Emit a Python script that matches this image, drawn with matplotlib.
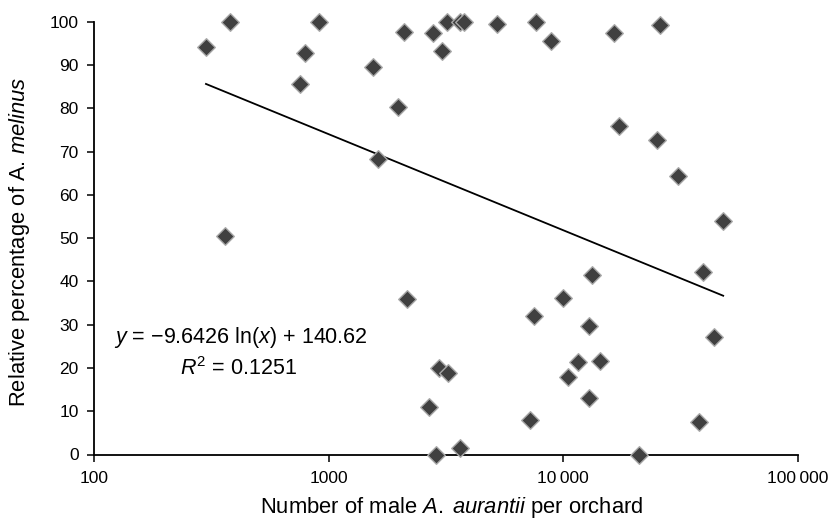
import numpy as np
import matplotlib
matplotlib.use("Agg")
import matplotlib.pyplot as plt

plt.rcParams['font.family'] = ['Liberation Sans', 'DejaVu Sans']
plt.rcParams['mathtext.fontset'] = 'custom'
plt.rcParams['mathtext.rm'] = 'Liberation Sans'
plt.rcParams['mathtext.it'] = 'Liberation Sans:italic'
plt.rcParams['mathtext.bf'] = 'Liberation Sans:bold'

# Data
males = [300, 380, 360, 755, 790, 910, 1540, 1630, 1970, 2100, 2160, 2670, 2790,
         2860, 2940, 3040, 3190, 3220, 3620, 3640, 3780, 5220, 7210, 7520, 7620,
         8850, 10000, 10430, 11570, 12810, 12890, 13250, 14290, 16370, 17300,
         20990, 24990, 25700, 30900, 37940, 39470, 43950, 48000]
melinus_pct = [94.2, 100, 50.6, 85.6, 92.8, 100, 89.6, 68.3, 80.2, 97.7, 36.0, 11.0, 97.3,
               0, 20.1, 93.2, 100, 18.8, 100, 1.4, 100, 99.4, 7.9, 31.9, 100,
               95.5, 36.2, 17.8, 21.4, 29.7, 13.0, 41.5, 21.5, 97.5, 75.8,
               0, 72.7, 99.2, 64.4, 7.4, 42.2, 27.2, 54.0]
slope, intercept, r2 = -9.6426, 140.62, 0.1251

x_ticks = [100, 1000, 10000, 100000]
x_ticklabels = ['100', '1000', '10\u2009000', '100\u2009000']
y_ticks = list(range(0, 101, 10))

fig = plt.figure(figsize=(8.3, 5.22), dpi=100)
ax = fig.add_axes([94/830, 1 - 454.5/522, (798-94)/830, (454.5-21.7)/522])

ax.scatter(males, melinus_pct, marker='D', s=80, facecolor='#404040',
           edgecolor='#a8a8a8', linewidth=1.0, zorder=3, clip_on=False)

xf = np.geomspace(min(males), max(males), 200)
ax.plot(xf, slope*np.log(xf) + intercept, color='black', lw=1.3, zorder=2)

ax.set_xscale('log')
ax.set_xlim(100, 100000)
ax.set_ylim(0, 100)
ax.set_xticks(x_ticks)
ax.set_xticklabels(x_ticklabels)
ax.xaxis.set_minor_locator(matplotlib.ticker.NullLocator())
ax.set_yticks(y_ticks)
ax.tick_params(axis='both', direction='out', length=5, width=1.1,
               labelsize=12.5, colors='black')
ax.tick_params(axis='x', pad=7)
ax.tick_params(axis='y', pad=6)
for s in ['top', 'right']:
    ax.spines[s].set_visible(False)
for s in ['left', 'bottom']:
    ax.spines[s].set_linewidth(1.3)

fig.text(452/830, 1 - 508/522, r'Number of male $\mathit{A.\;aurantii}$ per orchard',
         ha='center', va='center', fontsize=15.8)
fig.text(20/830, 1 - 241.5/522, r'Relative percentage of A. $\mathit{melinus}$',
         ha='center', va='center', rotation=90, fontsize=15.8)

eq = r'$\mathit{y}$ = ' + '\u2212' + f'{abs(slope):.4f}' + r' ln($\mathit{x}$) + ' + f'{intercept:.2f}'
fig.text(241/830, 1 - 338/522, eq, ha='center', va='center', fontsize=15.5)
fig.text(239/830, 1 - 369/522, r'$\mathit{R}^{2}$ = ' + f'{r2:.4f}',
         ha='center', va='center', fontsize=15.5)

fig.savefig('out.png', dpi=100)
